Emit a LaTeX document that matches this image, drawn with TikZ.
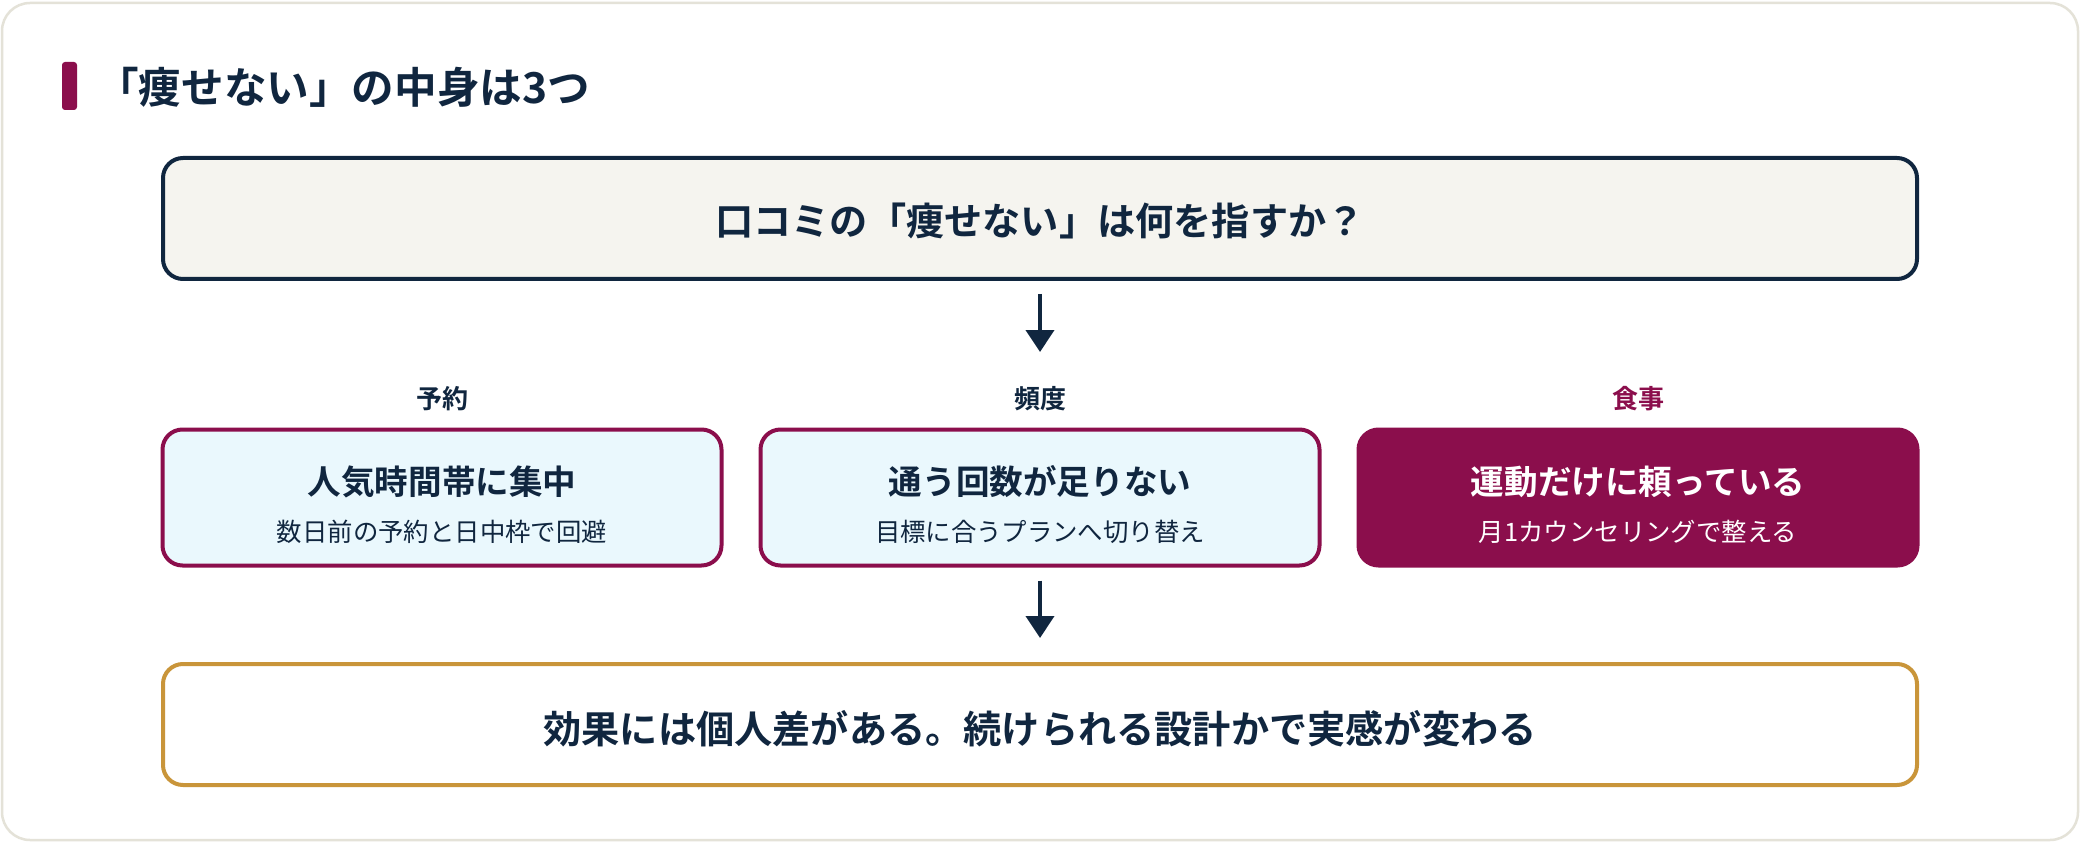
\documentclass[tikz,border=0pt]{standalone}
\usepackage{fontspec}
\setmainfont{Noto Sans CJK JP}[BoldFont={Noto Sans CJK JP Bold}]
\usetikzlibrary{arrows.meta}
\definecolor{navy}{HTML}{10263F}
\definecolor{maroon}{HTML}{8B0E4C}
\definecolor{gold}{HTML}{C9953A}
\definecolor{cardline}{HTML}{E4E2D8}
\definecolor{qfill}{HTML}{F5F4EF}
\definecolor{lblue}{HTML}{EAF8FD}
\tikzset{
  qbox/.style={draw=navy, line width=4pt, fill=qfill, rounded corners=20pt,
    minimum width=1754pt, minimum height=121pt, inner sep=0pt},
  midbox/.style={draw=maroon, line width=4pt, fill=lblue, rounded corners=20pt,
    minimum width=559pt, minimum height=136pt, inner sep=0pt},
  hotbox/.style={draw=maroon, line width=4pt, fill=maroon, rounded corners=20pt,
    minimum width=559pt, minimum height=136pt, inner sep=0pt},
  endbox/.style={draw=gold, line width=4pt, fill=white, rounded corners=20pt,
    minimum width=1754pt, minimum height=121pt, inner sep=0pt},
  bigtxt/.style={text=navy, font=\bfseries\fontsize{38.2}{45}\selectfont, inner sep=0pt},
  lbl/.style={text=navy, font=\bfseries\fontsize{26}{31}\selectfont, inner sep=0pt},
  maintxt/.style={text=navy, font=\bfseries\fontsize{33.6}{40}\selectfont, inner sep=0pt},
  subtxt/.style={text=navy, font=\fontsize{25.4}{30}\selectfont, inner sep=0pt},
  arr/.style={draw=navy, line width=4pt, -{Triangle[length=22pt,width=28pt]}},
}
\begin{document}
\begin{tikzpicture}[x=1pt,y=-1pt]
\useasboundingbox (0,0) rectangle (2080,842);
\fill[white] (0,0) rectangle (2080,842);
\draw[cardline, line width=2.5pt, fill=white, rounded corners=28pt] (2,3) rectangle (2078,840);
% title
\fill[maroon, rounded corners=3pt] (62,62) rectangle (77,110);
\node[anchor=west, text=navy, font=\bfseries\fontsize{42.6}{50}\selectfont, inner sep=0pt] (title) at (96,87) {「痩せない」の中身は3つ};
% question box
\node[qbox] (q) at (1040,218.5) {};
\node[bigtxt] (qt) at (1040,221) {口コミの「痩せない」は何を指すか？};
% arrow 1
\coordinate (a1) at (1040,352);
\draw[arr] ([yshift=-13pt]q.south) -- (a1);
% labels
\node[lbl] (l1) at (442,399) {予約};
\node[lbl] (l2) at (1040,399) {頻度};
\node[lbl, text=maroon] (l3) at (1638,399) {食事};
% middle boxes
\node[midbox] (b1) at (442,497.5) {};
\node[midbox] (b2) at (1040,497.5) {};
\node[hotbox] (b3) at (1638,497.5) {};
\node[maintxt] (m1) at (442,482) {人気時間帯に集中};
\node[subtxt] (s1) at (442,532) {数日前の予約と日中枠で回避};
\node[maintxt] (m2) at (1040,482) {通う回数が足りない};
\node[subtxt] (s2) at (1040,532) {目標に合うプランへ切り替え};
\node[maintxt, text=white] (m3) at (1638,482) {運動だけに頼っている};
\node[subtxt, text=white] (s3) at (1638,532) {月1カウンセリングで整える};
% arrow 2
\coordinate (a2) at (1040,638);
\draw[arr] ([yshift=-13pt]b2.south) -- (a2);
% conclusion
\node[endbox] (c) at (1040,724.5) {};
\node[bigtxt] (ct) at (1040,729) {効果には個人差がある。続けられる設計かで実感が変わる};
\end{tikzpicture}
\end{document}
